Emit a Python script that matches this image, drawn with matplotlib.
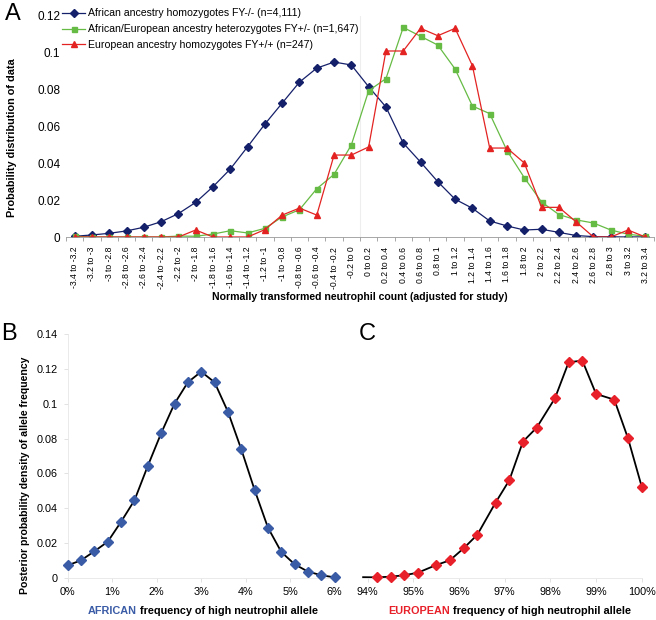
import numpy as np
import matplotlib.pyplot as plt

plt.rcParams['font.family'] = ['Liberation Sans', 'DejaVu Sans']

# ---- panel A data (bins of the normally transformed count) ----
bin_edges = [-3.4, -3.2, -3.0, -2.8, -2.6, -2.4, -2.2, -2.0, -1.8, -1.6, -1.4, -1.2,
             -1.0, -0.8, -0.6, -0.4, -0.2, 0.0, 0.2, 0.4, 0.6, 0.8, 1.0, 1.2, 1.4,
             1.6, 1.8, 2.0, 2.2, 2.4, 2.6, 2.8, 3.0, 3.2, 3.4]
african_hom = [0.0004, 0.0011, 0.002, 0.0033, 0.0053, 0.0083, 0.0127, 0.0188, 0.0273,
               0.0369, 0.049, 0.0613, 0.0727, 0.0841, 0.0917, 0.095, 0.0934, 0.0816,
               0.0706, 0.051, 0.0407, 0.030, 0.0205, 0.0156, 0.0087, 0.006, 0.0038,
               0.0042, 0.0025, 0.0008, 0.0002, 0.0001, 0.0, 0.0001]
het = [0.0004, 0, 0, 0, 0, 0, 0.0005, 0.0004, 0.0016, 0.0034, 0.0022, 0.0047, 0.0109,
       0.0148, 0.0262, 0.034, 0.050, 0.0794, 0.086, 0.1138, 0.109, 0.1042, 0.0912,
       0.0711, 0.067, 0.0469, 0.0322, 0.019, 0.0122, 0.0093, 0.0076, 0.0038, 0.0015,
       0.0004]
european_hom = [0, 0, 0, 0, 0, 0, 0, 0.0038, 0, 0, 0, 0.004, 0.0119, 0.0157, 0.0119,
                0.0445, 0.0445, 0.0489, 0.101, 0.101, 0.1133, 0.1093, 0.1133, 0.093,
                0.0483, 0.0483, 0.0402, 0.0161, 0.0161, 0.0082, 0, 0, 0.0038, 0]
legend_labels = ['African ancestry homozygotes FY-/- (n=4,111)',
                 'African/European ancestry heterozygotes FY+/- (n=1,647)',
                 'European ancestry homozygotes FY+/+ (n=247)']

# ---- panel B / C data (posterior density of allele frequency) ----
afr_freq = [0.0, 0.3, 0.6, 0.9, 1.2, 1.5, 1.8, 2.1, 2.4, 2.7, 3.0, 3.3, 3.6, 3.9,
            4.2, 4.5, 4.8, 5.1, 5.4, 5.7, 6.0]
afr_dens = [0.0071, 0.0100, 0.0152, 0.0207, 0.0322, 0.0445, 0.0643, 0.0831, 0.1001,
            0.1124, 0.1185, 0.1124, 0.0955, 0.0739, 0.0505, 0.0288, 0.0148, 0.0077,
            0.0035, 0.0014, 0.0002]
eur_freq = [93.9, 94.2, 94.5, 94.8, 95.1, 95.5, 95.8, 96.1, 96.4, 96.8, 97.1, 97.4,
            97.7, 98.1, 98.4, 98.7, 99.0, 99.4, 99.7, 100.0]
eur_dens = [0.0003, 0.0002, 0.0006, 0.0014, 0.0029, 0.0073, 0.010, 0.0169, 0.0247,
            0.0432, 0.056, 0.0783, 0.0863, 0.1032, 0.1239, 0.1249, 0.1057, 0.1024,
            0.0802, 0.0524]

W, H = 656, 620
fig = plt.figure(figsize=(W / 100, H / 100), dpi=100)


def box(x0, y0, x1, y1):
    # pixel box -> figure fraction [left, bottom, width, height]
    return [x0 / W, 1 - y1 / H, (x1 - x0) / W, (y1 - y0) / H]


def two_colour_label(x0, y0, word, colour, rest):
    # coloured first word, then the rest of the label right after it
    t = fig.text(x0 / W, 1 - y0 / H, word, color=colour, fontsize=7.8,
                 fontweight='bold', ha='left', va='center')
    fig.add_artist(plt.Annotation(rest, xy=(1, 0.5), xycoords=t, xytext=(0, 0),
                                  textcoords='offset points', fontsize=7.8,
                                  fontweight='bold', ha='left', va='center'))


# ---------------- panel A ----------------
ax = fig.add_axes(box(66, 16, 654, 237))
x = np.arange(len(african_hom))
ax.plot(x, african_hom, color='#15206a', marker='D', ms=3.6, lw=0.9, label=legend_labels[0])
ax.plot(x, het, color='#66bb44', marker='s', ms=3.6, lw=0.9, label=legend_labels[1])
ax.plot(x, european_hom, color='#e32322', marker='^', ms=4.5, lw=0.9, label=legend_labels[2])
ax.axvline(16.5, color='#eeeeee', lw=0.8, zorder=0)
ax.set_xlim(-0.5, len(x) - 0.5)
ax.set_ylim(0, 0.12)
ax.set_yticks([0, 0.02, 0.04, 0.06, 0.08, 0.1, 0.12])
ax.set_yticklabels(['0', '0.02', '0.04', '0.06', '0.08', '0.1', '0.12'], fontsize=8.5)
ax.tick_params(axis='y', length=0, pad=4)
tick_labels = ['%g to %g' % (bin_edges[i], bin_edges[i + 1]) for i in range(len(x))]
ax.set_xticks(x)
ax.set_xticklabels(tick_labels, rotation=90, fontsize=6.2)
ax.set_xticks(np.arange(-0.5, len(x)), minor=True)
ax.tick_params(axis='x', which='major', length=0, pad=7)
ax.tick_params(axis='x', which='minor', length=3, color='#999999', width=0.6)
for s in ['top', 'right', 'left']:
    ax.spines[s].set_visible(False)
ax.spines['bottom'].set_color('#999999')
ax.spines['bottom'].set_linewidth(0.6)
fig.legend(loc='upper left', bbox_to_anchor=(62 / W, 1 - 8.5 / H), frameon=False,
           fontsize=7.6, handlelength=2.2, handletextpad=0.3, labelspacing=0.55,
           borderpad=0, borderaxespad=0)
fig.text(12 / W, 1 - 138 / H, 'Probability distribution of data', rotation=90,
         fontsize=7.8, fontweight='bold', ha='center', va='center')
fig.text(360 / W, 1 - 297 / H, 'Normally transformed neutrophil count (adjusted for study)',
         fontsize=7.6, fontweight='bold', ha='center', va='center')
fig.text(5 / W, 1 - 14 / H, 'A', fontsize=17, ha='left', va='center')

# ---------------- panel B ----------------
axb = fig.add_axes(box(67.7, 334.3, 334.7, 577.7))
axb.plot(afr_freq, afr_dens, color='black', lw=1.3, marker='D', ms=5,
         mfc='#3a5ba6', mec='#3a5ba6', zorder=3, clip_on=False)
axb.set_xlim(0, 6)
axb.set_ylim(0, 0.14)
axb.set_xticks(range(7))
axb.set_xticklabels(['%d%%' % v for v in range(7)], fontsize=7.8)
axb.set_yticks([0, 0.02, 0.04, 0.06, 0.08, 0.1, 0.12, 0.14])
axb.set_yticklabels(['0', '0.02', '0.04', '0.06', '0.08', '0.1', '0.12', '0.14'], fontsize=7.8)
axb.tick_params(length=3, color='#dddddd', width=0.6, pad=4)
for s in ['top', 'right']:
    axb.spines[s].set_visible(False)
for s in ['left', 'bottom']:
    axb.spines[s].set_color('#e6e6e6')
    axb.spines[s].set_linewidth(0.6)

fig.text(25 / W, 1 - 475 / H, 'Posterior probability density of allele frequency',
         rotation=90, fontsize=7.6, fontweight='bold', ha='center', va='center')
two_colour_label(88, 611, 'AFRICAN', '#3a5ba6', ' frequency of high neutrophil allele')
fig.text(9 / W, 1 - 334 / H, 'B', fontsize=17, ha='center', va='center')

# ---------------- panel C ----------------
axc = fig.add_axes(box(362, 334.3, 641.7, 577.7))
axc.plot(eur_freq, eur_dens, color='black', lw=1.3, zorder=2, clip_on=False)
axc.plot(eur_freq[1:], eur_dens[1:], ls='none', marker='D', ms=5,
         mfc='#e8202a', mec='#e8202a', zorder=3, clip_on=False)
axc.set_xlim(93.875, 100)
axc.set_ylim(0, 0.14)
axc.set_xticks(range(94, 101))
axc.set_xticklabels(['%d%%' % v for v in range(94, 101)], fontsize=7.8)
axc.set_yticks([])
axc.tick_params(length=3, color='#dddddd', width=0.6, pad=4)
for s in ['top', 'right', 'left']:
    axc.spines[s].set_visible(False)
axc.spines['bottom'].set_color('#e6e6e6')
axc.spines['bottom'].set_linewidth(0.6)

two_colour_label(388, 611, 'EUROPEAN', '#e8202a', ' frequency of high neutrophil allele')
fig.text(367 / W, 1 - 334 / H, 'C', fontsize=17, ha='center', va='center')

fig.savefig('out.png', dpi=100)
